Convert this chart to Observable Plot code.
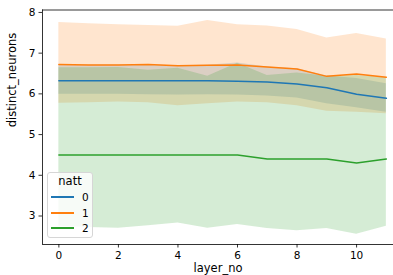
<!DOCTYPE html>
<html>
<head>
<meta charset="utf-8">
<script src="https://cdn.jsdelivr.net/npm/d3@7"></script>
<script src="https://cdn.jsdelivr.net/npm/@observablehq/plot@0.6"></script>
<style>
  html, body { margin: 0; padding: 0; background: #fff; }
  #wrap { position: relative; width: 393px; height: 275px; overflow: hidden; font-family: "DejaVu Sans", sans-serif; }
  #legend { position: absolute; left: 47px; top: 172px; width: 46px; height: 66px; box-sizing: border-box;
    background: rgba(255,255,255,0.8); border: 1px solid #d6d6d6; border-radius: 3px; color: #000; }
  #legend .title { position: absolute; left: 0; right: 0; top: 1px; text-align: center; font-size: 11.5px; line-height: 14px; }
  #legend .row { position: absolute; left: 3px; width: 40px; height: 12px; }
  #legend .sw { position: absolute; left: 0; top: 5px; width: 23px; height: 2px; }
  #legend .lab { position: absolute; left: 31px; top: 0; font-size: 10.5px; line-height: 12px; }
</style>
</head>
<body>
<div id="wrap"><div id="chart"></div><div id="legend"></div></div>
<script>
const layers = [0,1,2,3,4,5,6,7,8,9,10,11];
const hues = ["0","1","2"];
const colors = ["#1f77b4","#ff7f0e","#2ca02c"];

const mean0 = [6.32,6.32,6.32,6.32,6.32,6.32,6.31,6.29,6.24,6.15,5.99,5.89];
const lo0   = [5.99,5.99,5.99,5.98,5.97,5.98,5.97,5.95,5.90,5.76,5.66,5.55];
const hi0   = [6.71,6.71,6.71,6.71,6.69,6.70,6.76,6.66,6.62,6.44,6.38,6.25];

const mean1 = [6.72,6.71,6.71,6.72,6.69,6.70,6.71,6.66,6.61,6.43,6.49,6.41];
const lo1   = [5.77,5.78,5.80,5.78,5.71,5.76,5.80,5.78,5.71,5.57,5.55,5.51];
const hi1   = [7.75,7.72,7.70,7.68,7.66,7.80,7.70,7.67,7.58,7.37,7.48,7.35];

const mean2 = [4.5,4.5,4.5,4.5,4.5,4.5,4.5,4.4,4.4,4.4,4.3,4.4];
const lo2   = [2.75,2.72,2.70,2.76,2.83,2.70,2.79,2.69,2.64,2.69,2.55,2.75];
const hi2   = [6.64,6.64,6.65,6.58,6.63,6.43,6.75,6.45,6.51,6.43,6.45,6.40];

const xTicks = [0,2,4,6,8,10];
const yTicks = [3,4,5,6,7,8];
const xDomain = [-0.55, 11.24];
const yDomain = [2.30, 8.06];

const series = [[mean0,lo0,hi0],[mean1,lo1,hi1],[mean2,lo2,hi2]];
const data = [];
series.forEach(([m,l,h], i) => layers.forEach((x, j) => data.push({natt: hues[i], layer_no: x, mean: m[j], lo: l[j], hi: h[j]})));

const marks = [];
hues.forEach((h, i) => {
  marks.push(Plot.areaY(data.filter(d => d.natt === h), {x: "layer_no", y1: "lo", y2: "hi", fill: colors[i], fillOpacity: 0.2, curve: "linear"}));
});
hues.forEach((h, i) => {
  marks.push(Plot.line(data.filter(d => d.natt === h), {x: "layer_no", y: "mean", stroke: colors[i], strokeWidth: 1.5}));
});

const chart = Plot.plot({
  width: 393, height: 275,
  marginLeft: 42, marginRight: 0, marginTop: 9.5, marginBottom: 31,
  style: {fontFamily: "DejaVu Sans", fontSize: "10.5px", background: "#fff", color: "#000"},
  x: {domain: xDomain},
  y: {domain: yDomain},
  marks: [
    ...marks,
    Plot.ruleX([xDomain[0]], {stroke: "#000", strokeWidth: 0.8}),
    Plot.ruleY([yDomain[0]], {stroke: "#000", strokeWidth: 0.8}),
    Plot.ruleY([yDomain[1]], {stroke: "#000", strokeWidth: 0.8}),
    Plot.axisX({ticks: xTicks, tickSize: 3.5, tickPadding: 3.5, tickFormat: d => String(d), label: null, strokeWidth: 0.8, fontSize: 10.5}),
    Plot.axisY({ticks: yTicks, tickSize: 3.5, tickPadding: 3.5, tickFormat: d => String(d), label: null, strokeWidth: 0.8, fontSize: 10.5}),
    Plot.text(["distinct_neurons"], {frameAnchor: "left", dx: -30, rotate: -90, fontSize: 11.5, fill: "#000"}),
    Plot.text(["layer_no"], {frameAnchor: "bottom", dy: 27.5, fontSize: 11.5, fill: "#000"})
  ]
});
document.getElementById("chart").appendChild(chart);

const legend = document.getElementById("legend");
const t = document.createElement("div");
t.className = "title"; t.textContent = "natt";
legend.appendChild(t);
const rowTops = [18, 34, 49];
hues.forEach((h, i) => {
  const r = document.createElement("div");
  r.className = "row";
  r.style.top = rowTops[i] + "px";
  const s = document.createElement("div");
  s.className = "sw"; s.style.background = colors[i];
  const l = document.createElement("div");
  l.className = "lab"; l.textContent = h;
  r.appendChild(s); r.appendChild(l);
  legend.appendChild(r);
});
</script>
</body>
</html>
